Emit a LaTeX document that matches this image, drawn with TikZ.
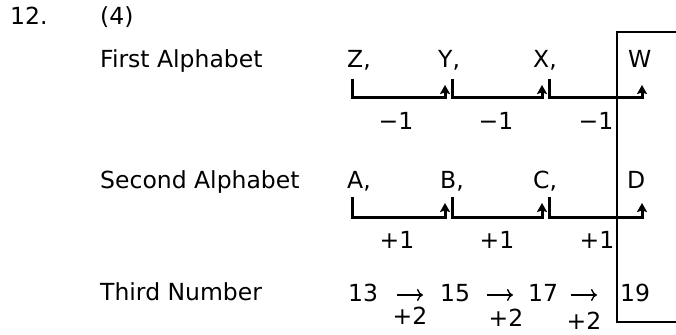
\documentclass[tikz,border=0pt]{standalone}
\usepackage{fontspec}
\setmainfont{DejaVu Sans}
\usetikzlibrary{arrows.meta}
\begin{document}
\begin{tikzpicture}[x=1pt,y=-1pt,
  txt/.style={inner sep=0pt, anchor=base west, font=\fontsize{23.5}{28}\selectfont},
  lbl/.style={inner sep=0pt, anchor=center, font=\fontsize{23.5}{28}\selectfont},
  brk/.style={line width=3pt, -{Stealth[length=9pt,width=10pt,inset=1.5pt]}},
  rarr/.style={line width=1.4pt, -{Computer Modern Rightarrow[length=6pt,width=12pt]}},
  boxline/.style={line width=1.5pt}]
\useasboundingbox (0,0) rectangle (676,334);
% headings
\node[txt] (num) at (10,25) {12.};
\node[txt] (opt) at (100,25) {(4)};
\node[txt] (first) at (100,68) {First Alphabet};
\node[txt] (second) at (100,188) {Second Alphabet};
\node[txt] (third) at (100,300) {Third Number};
% row 1
\node[txt] (z) at (347,68) {Z\rlap{,}};
\node[txt] (y) at (438,68) {Y\rlap{,}};
\node[txt] (x) at (533,68) {X\rlap{,}};
\node[txt] (w) at (628,68) {W};
% row 2
\node[txt] (a) at (347,188) {A\rlap{,}};
\node[txt] (b) at (440,188) {B\rlap{,}};
\node[txt] (c) at (533,188) {C\rlap{,}};
\node[txt] (d) at (627,188) {D};
% row 3
\node[txt] (n13) at (348,301) {13};
\node[txt] (n15) at (440,301) {15};
\node[txt] (n17) at (528,301) {17};
\node[txt] (n19) at (620,301) {19};
\coordinate (a1s) at (397,295); \coordinate (a1e) at (423,295);
\coordinate (a2s) at (487,295); \coordinate (a2e) at (513,295);
\coordinate (a3s) at (571,295); \coordinate (a3e) at (597,295);
\draw[rarr] (a1s) -- (a1e);
\draw[rarr] (a2s) -- (a2e);
\draw[rarr] (a3s) -- (a3e);
% brackets row 1
\coordinate (s1) at (352,79); \coordinate (e1) at (445,85);
\coordinate (s2) at (452,79); \coordinate (e2) at (542,85);
\coordinate (s3) at (549,79); \coordinate (e3) at (642,85);
\draw[brk] (s1) -- ++(0,19) -| (e1);
\draw[brk] (s2) -- ++(0,19) -| (e2);
\draw[brk] (s3) -- ++(0,19) -| (e3);
% brackets row 2
\coordinate (t1) at (352,197); \coordinate (f1) at (445,203);
\coordinate (t2) at (452,197); \coordinate (f2) at (542,203);
\coordinate (t3) at (549,197); \coordinate (f3) at (642,203);
\draw[brk] (t1) -- ++(0,20) -| (f1);
\draw[brk] (t2) -- ++(0,20) -| (f2);
\draw[brk] (t3) -- ++(0,20) -| (f3);
% labels
\node[lbl] (m1) at (396,121) {−1};
\node[lbl] (m2) at (496,121) {−1};
\node[lbl] (m3) at (596,121) {−1};
\node[lbl] (p1) at (397,240) {+1};
\node[lbl] (p2) at (497,240) {+1};
\node[lbl] (p3) at (597,240) {+1};
\node[lbl] (q1) at (410,316) {+2};
\node[lbl] (q2) at (506,318) {+2};
\node[lbl] (q3) at (584,321) {+2};
% box
\coordinate (bt) at (617,32); \coordinate (btr) at (676,32);
\coordinate (bb) at (617,322); \coordinate (bbr) at (676,322);
\draw[boxline] (btr) -- (bt) -- (bb) -- (bbr);
\end{tikzpicture}
\end{document}
